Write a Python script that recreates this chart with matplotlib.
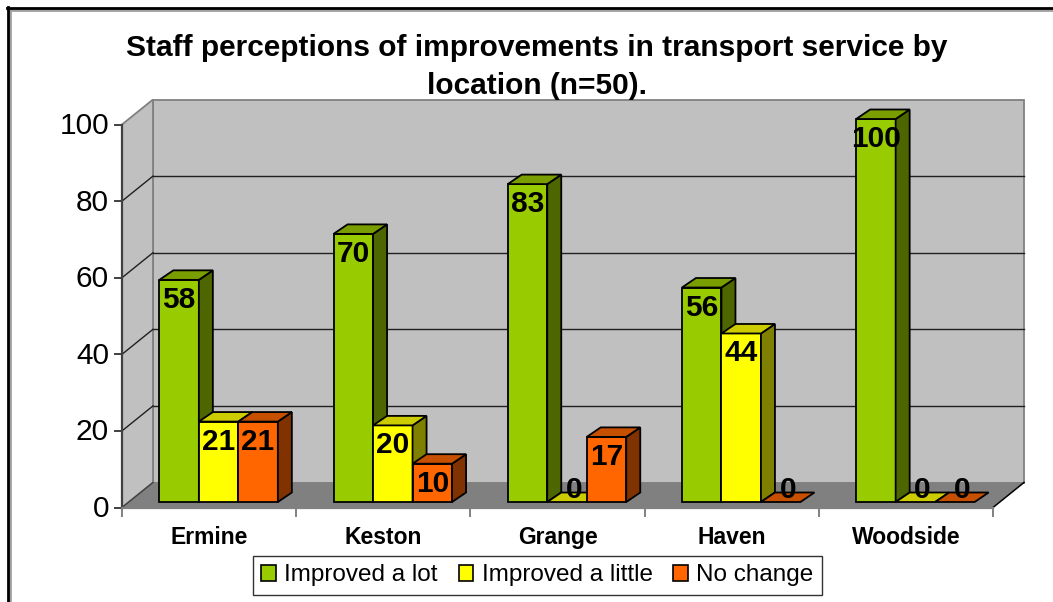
import matplotlib
matplotlib.use("Agg")
import matplotlib.pyplot as plt
from matplotlib.patches import Polygon, Patch
from matplotlib.lines import Line2D

# ---------------- data ----------------
categories = ["Ermine", "Keston", "Grange", "Haven", "Woodside"]
series_names = ["Improved a lot", "Improved a little", "No change"]
improved_lot = [58, 70, 83, 56, 100]
improved_little = [21, 20, 0, 44, 0]
no_change = [21, 10, 17, 0, 0]
y_ticks = [0, 20, 40, 60, 80, 100]
title_lines = ["Staff perceptions of improvements in transport service by",
               "location (n=50)."]

series = [improved_lot, improved_little, no_change]
front_cols = ["#99CC00", "#FFFF00", "#FF6600"]
top_cols = ["#7A9E00", "#CCCC00", "#C65000"]
side_cols = ["#4D6600", "#808000", "#803300"]

# ---------------- layout (pixels) ----------------
W, H = 1053, 602
DPI = 100
X0, X1 = 122, 993        # front plane x range
Y0 = 507.5               # value 0 on front plane
PPU = 3.83               # pixels per value unit
NC = len(categories)
PPX = (X1 - X0) / NC     # pixels per category unit

def ux(px):
    return px / PPX

def uy(px):
    return px / PPU

WDX, WDY = ux(31), uy(25)         # wall depth
BOX, BOY = ux(9.5), uy(5.5)       # bar front offset from front plane
BDX, BDY = ux(14), uy(9.5)        # bar depth
BW = ux(39.5)                     # bar width

FONT = "Liberation Sans"

fig = plt.figure(figsize=(W / DPI, H / DPI), dpi=DPI)
fig.patch.set_facecolor("white")
ax = fig.add_axes([X0 / W, (H - Y0) / H, (X1 - X0) / W, 100 * PPU / H])
ax.set_xlim(0, NC)
ax.set_ylim(0, 100)
ax.axis("off")

ymax = y_ticks[-1]

def poly(pts, fc, ec="black", lw=1.3, z=2):
    p = Polygon(pts, closed=True, facecolor=fc, edgecolor=ec, linewidth=lw,
                clip_on=False, zorder=z, joinstyle="miter")
    ax.add_patch(p)

# walls
poly([(WDX, WDY), (NC + WDX, WDY), (NC + WDX, ymax + WDY), (WDX, ymax + WDY)],
     "#C0C0C0", ec="#808080", lw=1.3, z=1)
poly([(0, 0), (WDX, WDY), (WDX, ymax + WDY), (0, ymax)],
     "#C0C0C0", ec="#808080", lw=1.3, z=1)
# floor
poly([(0, 0), (NC, 0), (NC + WDX, WDY), (WDX, WDY)], "#808080", ec="none", lw=0, z=1)
ax.plot([NC, NC + WDX], [0, WDY], color="black", lw=1.1, clip_on=False, zorder=1.5)
ax.plot([0, WDX], [0, WDY], color="#404040", lw=1.0, clip_on=False, zorder=1.5)

# gridlines
for t in y_ticks[1:-1]:
    ax.plot([WDX, NC + WDX], [t + WDY, t + WDY], color="#202020", lw=1.0,
            clip_on=False, zorder=1.2)
    ax.plot([0, WDX], [t, t + WDY], color="#202020", lw=1.0, clip_on=False, zorder=1.2)

# axes lines
ax.plot([0, 0], [0, ymax], color="#404040", lw=1.6, clip_on=False, zorder=1.6)
ax.plot([0, NC], [0, 0], color="#808080", lw=1.6, clip_on=False, zorder=1.6)
for t in y_ticks:
    ax.plot([-ux(7), 0], [t, t], color="#404040", lw=1.4, clip_on=False, zorder=1.6)
    ax.text(-ux(13), t - uy(9.5), str(t), ha="right", va="baseline", fontsize=21.5,
            family=FONT, color="black")
for i in range(NC + 1):
    ax.plot([i, i], [0, -uy(8)], color="#808080", lw=1.4, clip_on=False, zorder=1.6)
for i, c in enumerate(categories):
    ax.text(i + 0.5, -uy(36.5), c, ha="center", va="baseline", fontsize=16.5,
            fontweight="bold", family=FONT, color="black")

# bars
z = 3
for i in range(NC):
    start = i + (1 - 3 * BW) / 2 + BOX
    for s in range(3):
        v = series[s][i]
        x0 = start + s * BW
        x1 = x0 + BW
        yb = BOY
        yt = BOY + v
        if v > 0:
            poly([(x0, yb), (x1, yb), (x1, yt), (x0, yt)], front_cols[s], z=z)
            poly([(x1, yb), (x1 + BDX, yb + BDY), (x1 + BDX, yt + BDY), (x1, yt)],
                 side_cols[s], z=z)
        poly([(x0, yt), (x1, yt), (x1 + BDX, yt + BDY), (x0 + BDX, yt + BDY)],
             top_cols[s], z=z)
        z += 0.01
        if v > 0:
            ax.text((x0 + x1) / 2, yt - uy(28), str(v), ha="center", va="baseline",
                    fontsize=21.5, fontweight="bold", family=FONT,
                    color="black", zorder=10)
        else:
            ax.text((x0 + x1) / 2 + ux(7), uy(9), str(v), ha="center", va="baseline",
                    fontsize=21.5, fontweight="bold", family=FONT,
                    color="black", zorder=10)

# title
for k, (line, base) in enumerate(zip(title_lines, [56.5, 93.5])):
    fig.text(537 / W, 1 - base / H, line, ha="center", va="baseline", fontsize=21.5,
             fontweight="bold", family=FONT)

# legend
handles = [Patch(facecolor=front_cols[k], edgecolor="black", linewidth=1.2)
           for k in range(3)]
leg = fig.legend(handles, series_names, loc="center", bbox_to_anchor=(537.5 / W, 1 - 575.5 / H),
                 ncol=3, frameon=True, fancybox=False, edgecolor="black",
                 prop={"family": FONT, "size": 17.5},
                 handlelength=0.6, handleheight=0.6, handletextpad=0.35,
                 columnspacing=0.85, borderpad=0.35, borderaxespad=0)
leg.get_frame().set_linewidth(1.0)

# outer border
fig.add_artist(Line2D([9.5 / W, 9.5 / W], [0, 1 - 9 / H], transform=fig.transFigure,
                      color="#A0A0A0", lw=2.0))
fig.add_artist(Line2D([8 / W, 1], [1 - 9.5 / H, 1 - 9.5 / H], transform=fig.transFigure,
                      color="#A0A0A0", lw=2.0))
fig.add_artist(Line2D([8 / W, 8 / W], [0, 1 - 7 / H], transform=fig.transFigure,
                      color="black", lw=2.0))
fig.add_artist(Line2D([7 / W, 1], [1 - 7.5 / H, 1 - 7.5 / H], transform=fig.transFigure,
                      color="black", lw=2.0))

fig.savefig("out.png", dpi=DPI)
